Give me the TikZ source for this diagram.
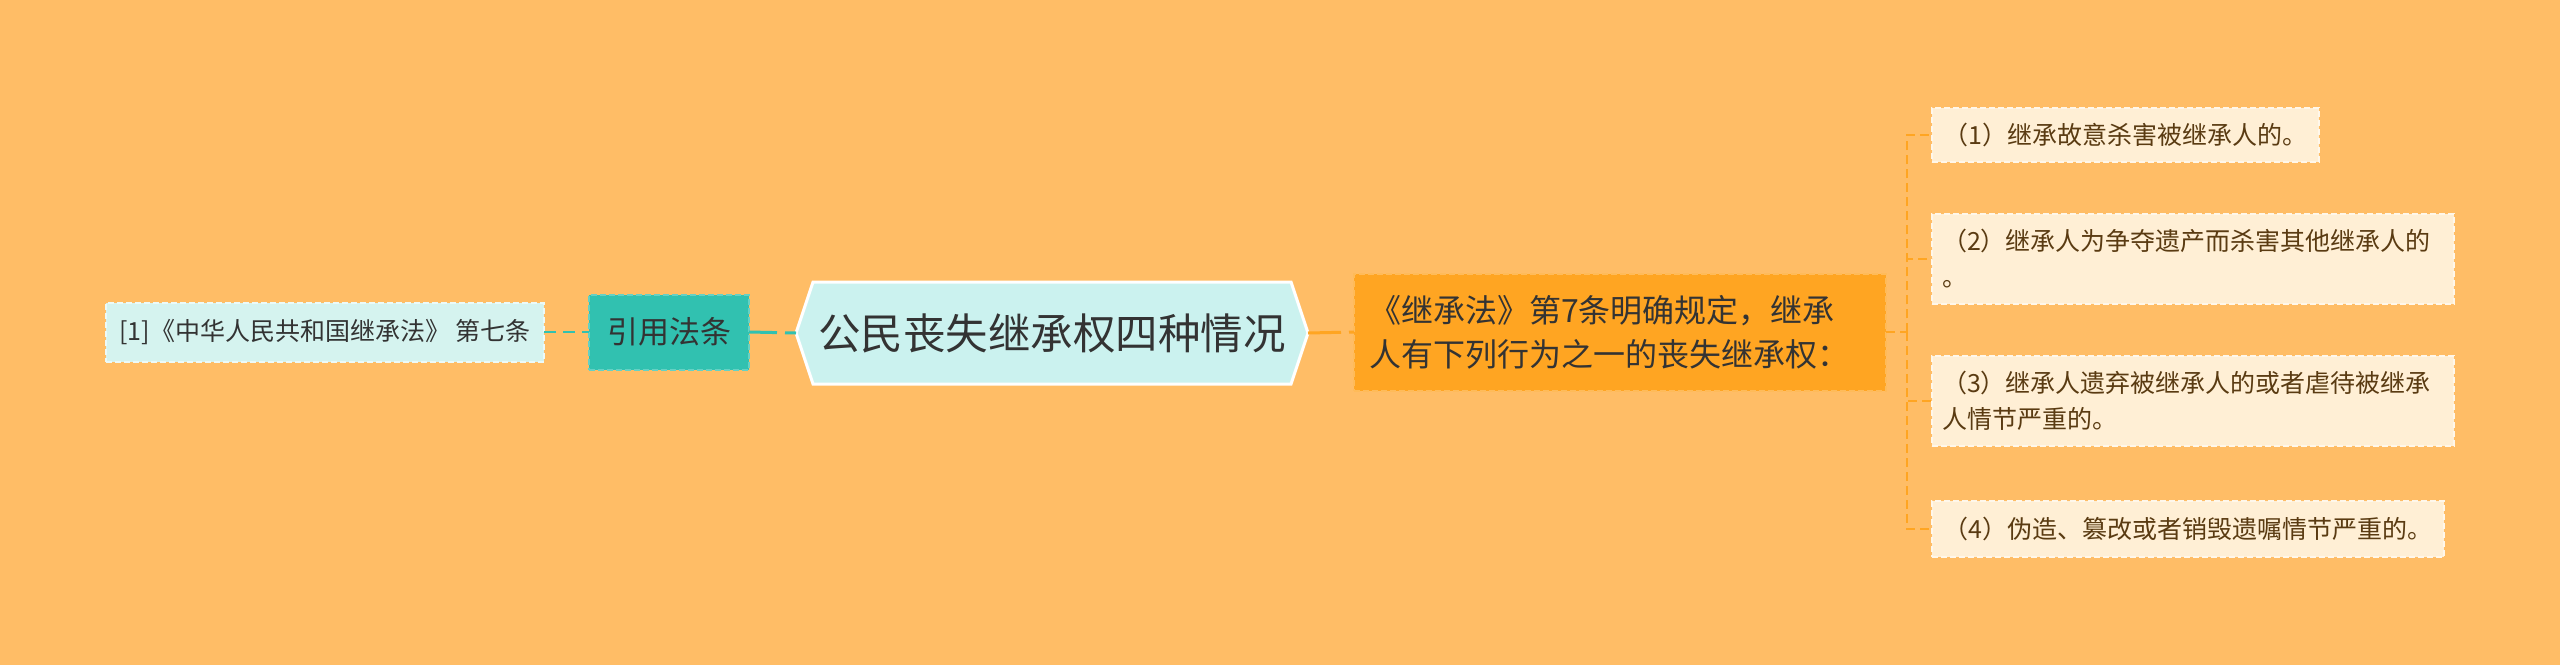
\documentclass[tikz,border=0pt]{standalone}
\usepackage{fontspec}
\setmainfont{Noto Sans CJK SC}
\definecolor{bg}{HTML}{FFBD66}
\definecolor{orangebox}{HTML}{FFA522}
\definecolor{tealc}{HTML}{31C1B0}
\definecolor{centerfill}{HTML}{CBF2EF}
\definecolor{leafcyan}{HTML}{D5F3EF}
\definecolor{cream}{HTML}{FFEFD5}
\definecolor{txtdark}{HTML}{333333}
\definecolor{txtbrown}{HTML}{5A3B12}
\begin{document}
\begin{tikzpicture}[x=1pt,y=-1pt,
  every node/.style={inner sep=0pt,outer sep=0pt},
  leafleft/.style={fill=leafcyan,draw=white!55!leafcyan,line width=2pt,dash pattern=on 6pt off 3pt,
    minimum width=438pt,minimum height=59pt,font=\fontsize{25}{30}\selectfont,text=txtdark},
  citebox/.style={fill=tealc,draw=white!25!tealc,line width=2pt,dash pattern=on 6pt off 3pt,
    minimum width=160pt,minimum height=75pt,font=\fontsize{31}{38}\selectfont,text=txtdark},
  lawbox/.style={fill=orangebox,draw=white!25!orangebox,line width=2pt,dash pattern=on 6pt off 3pt,
    minimum width=532pt,minimum height=117pt,text width=502pt,align=left,
    font=\fontsize{32}{44}\selectfont,text=txtdark},
  itembox/.style={fill=cream,draw=white!50!cream,line width=2pt,dash pattern=on 6pt off 3pt,
    anchor=west,inner xsep=10pt,align=left,font=\fontsize{25}{36}\selectfont,text=txtbrown},
  linkteal/.style={draw=tealc,line width=3pt,dash pattern=on 28pt off 8pt},
  linktealthin/.style={draw=tealc,line width=2pt,dash pattern=on 12pt off 7pt},
  linkorange/.style={draw=orangebox,line width=3pt,dash pattern=on 33pt off 8pt},
  branch/.style={draw=orangebox,line width=2pt,dash pattern=on 9pt off 5pt},
  hexstyle/.style={fill=centerfill,draw=white,line width=3pt,line join=miter}
]
\fill[bg] (0,0) rectangle (2560,665);
\useasboundingbox (0,0) rectangle (2560,665);

% center hexagon
\coordinate (cL) at (796,333);
\coordinate (cR) at (1308,333);
\draw[hexstyle] (cL) -- (813,282) -- (1291,282) -- (cR) -- (1291,384) -- (813,384) -- cycle;
\node[font=\fontsize{42.5}{50}\selectfont,text=txtdark] (center) at (1052,333) {公民丧失继承权四种情况};

% left side
\node[citebox] (cite) at (669,332) {引用法条};
\node[leafleft] (leaf) at (325,332) {[1]《中华人民共和国继承法》 第七条};

% right side
\node[lawbox] (law) at (1620,332) {《继承法》第7条明确规定，继承\\人有下列行为之一的丧失继承权：};

\node[itembox,minimum width=387pt,minimum height=54pt] (r1) at (1932,135) {（1）继承故意杀害被继承人的。};
\node[itembox,minimum width=522pt,minimum height=90pt,text width=502pt] (r2) at (1932,259) {（2）继承人为争夺遗产而杀害其他继承人的\\。};
\node[itembox,minimum width=522pt,minimum height=90pt,text width=502pt] (r3) at (1932,401) {（3）继承人遗弃被继承人的或者虐待被继承\\人情节严重的。};
\node[itembox,minimum width=512pt,minimum height=56pt] (r4) at (1932,529) {（4）伪造、篡改或者销毁遗嘱情节严重的。};

\coordinate (bus) at (1907,332);

% connectors
\draw[linktealthin] (leaf.east) -- (cite.west);
\draw[linkteal] (cite.east) -- (cL);
\draw[linkorange] (cR) -- (law.west);
\draw[branch] (law.east) -- (bus);
\draw[branch] (bus) |- (r1.west);
\draw[branch] (bus) |- (r2.west);
\draw[branch] (bus) |- (r3.west);
\draw[branch] (bus) |- (r4.west);
\end{tikzpicture}
\end{document}
